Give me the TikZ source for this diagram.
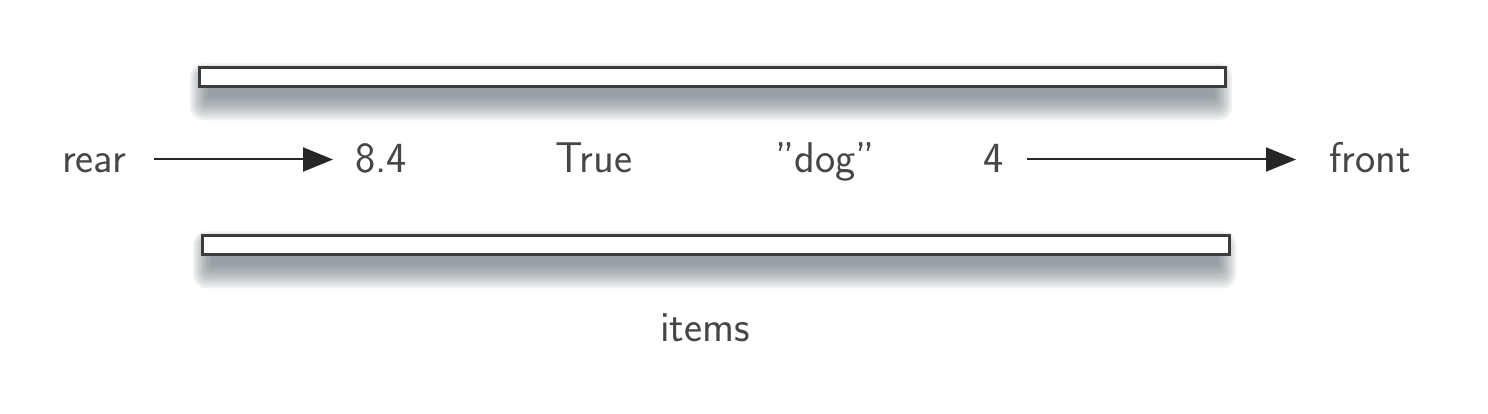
\documentclass[tikz,border=0pt]{standalone}
\usetikzlibrary{arrows.meta}
\definecolor{txt}{RGB}{70,70,70}
\definecolor{barline}{RGB}{60,60,60}
\definecolor{shadowc}{RGB}{95,110,115}
\tikzset{
  lbl/.style={anchor=base west, inner sep=0pt, text=txt, text height=29pt, text depth=2pt,
    font=\sffamily\fontsize{43}{50}\selectfont},
  arr/.style={draw=black!85, line width=2pt, -{Triangle[length=30pt,width=24pt]}},
  barbox/.style={draw=barline, fill=white, line width=2.6pt},
  shadowlayer/.style={fill=shadowc, fill opacity=0.095}
}
\newcommand{\barshadow}[4]{%
  \foreach \i in {0,...,9} {
    \fill[shadowlayer, rounded corners={\i*1.5pt}]
      ({#1+10-2*\i},{#2+10-1.4*\i}) rectangle ({#3-10+2*\i},{#4+12+2.6*\i});
  }
}
\begin{document}
\begin{tikzpicture}[x=1pt,y=-1pt]
\fill[white] (0,0) rectangle (1488,414);
\useasboundingbox (0,0) rectangle (1488,414);
% shadows
\barshadow{198}{66}{1224}{85}
\barshadow{201}{234}{1228}{253}
% bars
\node[barbox, inner sep=0pt, minimum width=1026pt, minimum height=19pt, anchor=north west] (topbar) at (198,66) {};
\node[barbox, inner sep=0pt, minimum width=1027pt, minimum height=19pt, anchor=north west] (botbar) at (201,234) {};
% labels
\node[lbl] (rear) at (62,173) {rear};
\node[lbl] (v1) at (355,173) {8.4};
\node[lbl] (v2) at (555,173) {True};
\node[lbl] (v3) at (775,173) {"dog"};
\node[lbl] (v4) at (983,173) {4};
\node[lbl] (front) at (1329,173) {front};
\node[lbl] (items) at (660,341) {items};
% arrows
\draw[arr, shorten <=28pt, shorten >=22pt] (rear.east) -- (v1.west);
\draw[arr, shorten <=23pt, shorten >=33pt] (v4.east) -- (front.west);
\end{tikzpicture}
\end{document}
